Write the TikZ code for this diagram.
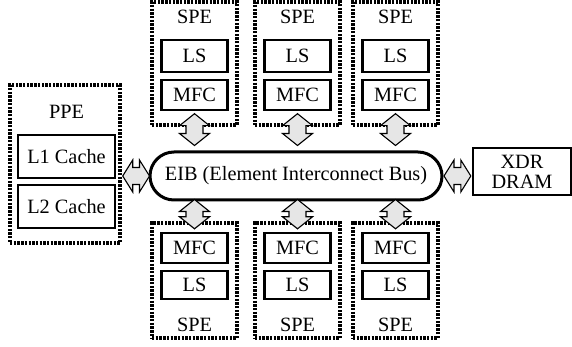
\documentclass[tikz,border=0pt]{standalone}
\usepackage{fontspec}
\setmainfont{Liberation Serif}
\usetikzlibrary{calc}
\definecolor{arrfill}{HTML}{E6E6E6}
\tikzset{
  grp/.style={draw, line width=3.4pt, dash pattern=on 2.4pt off 1.3pt, inner sep=0pt},
  box/.style={draw, line width=2.4pt, inner sep=0pt, minimum width=66pt},
  txt/.style={inner sep=0pt},
  fat/.style={draw, line width=1.1pt, fill=arrfill, line join=miter},
}
\newcommand\vfat[2]{\draw[fat] let \p1=#1, \p2=#2 in
  (\x1,\y1) -- (\x1+15pt,\y1-12pt) -- (\x1+8.5pt,\y1-12pt) -- (\x1+8.5pt,\y2+12pt)
  -- (\x1+15pt,\y2+12pt) -- (\x1,\y2) -- (\x1-15pt,\y2+12pt) -- (\x1-8.5pt,\y2+12pt)
  -- (\x1-8.5pt,\y1-12pt) -- (\x1-15pt,\y1-12pt) -- cycle;}
\newcommand\hfat[2]{\draw[fat] let \p1=#1, \p2=#2 in
  (\x1,\y1) -- (\x1+10pt,\y1+16pt) -- (\x1+10pt,\y1+8.5pt) -- (\x2-10pt,\y1+8.5pt)
  -- (\x2-10pt,\y1+16pt) -- (\x2,\y1) -- (\x2-10pt,\y1-16pt) -- (\x2-10pt,\y1-8.5pt)
  -- (\x1+10pt,\y1-8.5pt) -- (\x1+10pt,\y1-16pt) -- cycle;}
\begin{document}
\begin{tikzpicture}[x=1pt,y=-1pt,font=\fontsize{20.3}{20}\selectfont]
\useasboundingbox (0,0) rectangle (572,347);
% PPE
\node[grp, minimum width=110pt, minimum height=158pt] (ppe) at (65,164) {};
\node[txt] (ppel) at (66.5,112) {PPE};
\node[box, minimum width=97pt, minimum height=43pt] (l1) at (66.5,156.5) {L1 Cache};
\node[box, minimum width=97pt, minimum height=43pt] (l2) at (66.5,206.5) {L2 Cache};
% XDR
\node[draw, line width=2.4pt, minimum width=98pt, minimum height=47pt, inner sep=0pt, align=center] (xdr) at (522,171.5) {XDR\\DRAM};
% EIB
\node[draw, fill=white, line width=3pt, rounded corners=24pt, minimum width=292pt, minimum height=48pt, inner sep=0pt] (eib) at (296,176) {EIB (Element Interconnect Bus)};
% SPEs
\foreach \i/\x in {1/194.5,2/297.5,3/395.5}{
  \node[grp, minimum width=85pt, minimum height=123pt] (ts\i) at (\x,63.5) {};
  \node[txt] (tsl\i) at (\x,17) {SPE};
  \node[box, minimum height=32pt] (tls\i) at (\x,56) {LS};
  \node[box, minimum height=30pt] (tmfc\i) at (\x,95) {MFC};
  \node[grp, minimum width=85pt, minimum height=115pt] (bs\i) at (\x,280.5) {};
  \node[box, minimum height=30pt] (bmfc\i) at (\x,248) {MFC};
  \node[box, minimum height=28pt] (bls\i) at (\x,285) {LS};
  \node[txt] (bsl\i) at (\x,325) {SPE};
  \vfat{($(tmfc\i.south)+(0,2.5)$)}{($(tmfc\i.south |- eib.north)+(0,-5)$)}
  \vfat{($(bmfc\i.north |- eib.south)+(0,-2)$)}{($(bmfc\i.north)+(0,-3)$)}
}
\hfat{($(ppe.east |- eib.west)+(1,0)$)}{($(eib.west)+(1,0)$)}
\hfat{($(eib.east)+(0.5,0)$)}{($(xdr.west |- eib.east)+(-1,0)$)}
\end{tikzpicture}
\end{document}
